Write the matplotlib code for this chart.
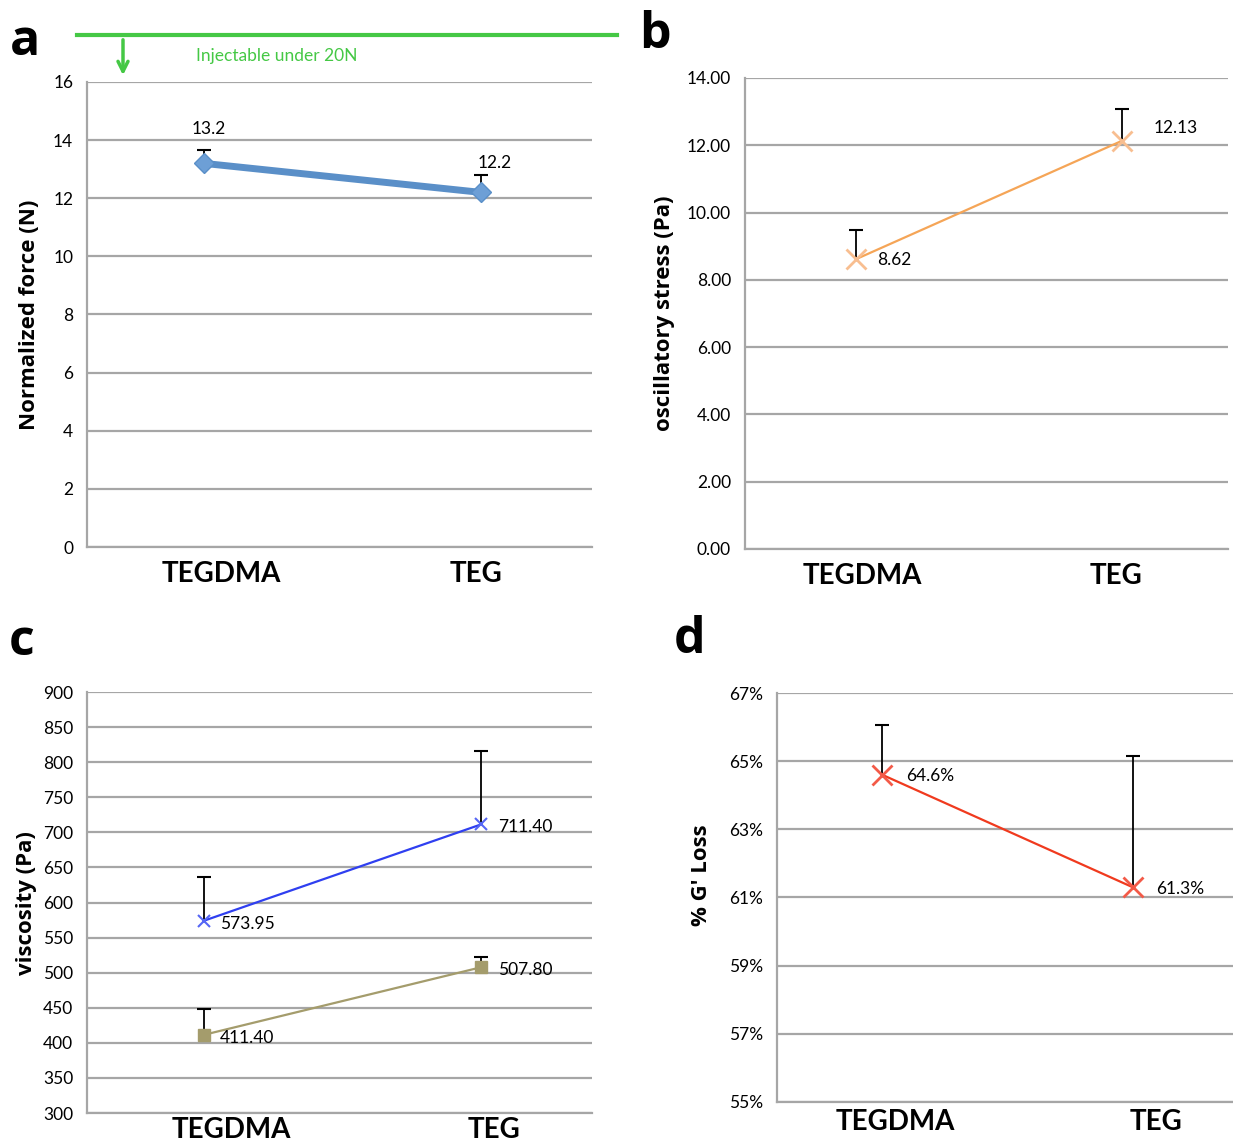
import numpy as np
import matplotlib.pyplot as plt
import matplotlib.transforms as mtransforms
from matplotlib.lines import Line2D
from matplotlib.ticker import FuncFormatter

plt.rcParams['font.family'] = ['Lato', 'DejaVu Sans']
LABEL_FONT = ['Open Sans', 'DejaVu Sans']

categories = ["TEGDMA", "TEG"]

# panel a: normalized injection force
force = [13.2, 12.2]
force_err = [0.45, 0.6]

# panel b: oscillatory stress
stress = [8.62, 12.13]
stress_err = [0.85, 0.95]

# panel c: viscosity, two series
visc_blue = [573.95, 711.40]
visc_blue_err = [62, 104]
visc_tan = [411.40, 507.80]
visc_tan_err = [37, 14]

# panel d: % G' loss
gloss = [64.6, 61.3]
gloss_err = [1.45, 3.85]

GRID = "#a6a6a6"


def style_axes(ax, ylim, step, fmt, shifts, pad=9):
    ax.set_xlim(-0.42, 1.40)
    ax.set_ylim(*ylim)
    ax.set_yticks(np.arange(ylim[0], ylim[1] + step / 2, step))
    ax.yaxis.set_major_formatter(FuncFormatter(fmt))
    ax.grid(axis="y", color=GRID, lw=1.6)
    ax.set_axisbelow(True)
    for s in ["top", "right"]:
        ax.spines[s].set_visible(False)
    for s in ["left", "bottom"]:
        ax.spines[s].set_color(GRID)
        ax.spines[s].set_linewidth(1.6)
    ax.tick_params(axis="y", length=0, labelsize=12.5, pad=10)
    ax.tick_params(axis="x", length=0, labelsize=20, pad=pad)
    ax.set_xticks([0, 1])
    ax.set_xticklabels(categories, fontweight="bold")
    # Excel puts the category labels a bit off the data points
    for lab, dx in zip(ax.get_xticklabels(), shifts):
        lab.set_transform(lab.get_transform() +
                          mtransforms.ScaledTranslation(dx / 100, 0, fig.dpi_scale_trans))


def errbars(ax, y, err):
    # upper error bars only, cap on top
    tops = [v + e for v, e in zip(y, err)]
    ax.vlines([0, 1], y, tops, color="black", lw=1.3, zorder=2)
    ax.plot([0, 1], tops, ls="none", marker="_", ms=10, mew=1.5, color="black", zorder=2)


def ylab(ax, text, x, y=0.5):
    ax.set_ylabel(text, fontsize=16, fontweight="bold", family=LABEL_FONT)
    ax.yaxis.set_label_coords(x, y)


fig = plt.figure(figsize=(12.33, 11.43), dpi=100)

# ---------------- a ----------------
ax_a = fig.add_axes([0.0706, 0.5214, 0.4096, 0.4069])
style_axes(ax_a, (0, 16), 2, lambda v, p: f"{v:.0f}", [18, -5], pad=10)
errbars(ax_a, force, force_err)
ax_a.plot([0, 1], force, color="#5a8fc8", lw=5, marker="D", ms=10,
          mfc="#6d9fd6", mec="#5a8fc8", zorder=3)
ax_a.annotate(f"{force[0]:.1f}", (0, force[0]), xytext=(4, 25), textcoords="offset points",
              ha="center", va="center", fontsize=12.5)
ax_a.annotate(f"{force[1]:.1f}", (1, force[1]), xytext=(10, 21), textcoords="offset points",
              ha="center", va="center", fontsize=12.5)
ylab(ax_a, "Normalized force (N)", -0.093)

# green threshold line with arrow
fig.add_artist(Line2D([77 / 1233, 617 / 1233], [1 - 35 / 1143, 1 - 35 / 1143],
                      color="#45c845", lw=3))
fig.add_artist(plt.Annotation("", xy=(123 / 1233, 1 - 78 / 1143),
                              xytext=(123 / 1233, 1 - 37 / 1143),
                              xycoords="figure fraction",
                              arrowprops=dict(arrowstyle="->", color="#45c845",
                                              lw=2.5, mutation_scale=18)))
fig.text(196 / 1233, 1 - 56 / 1143, "Injectable under 20N", color="#45c845",
         fontsize=12.5, va="center")

# ---------------- b ----------------
ax_b = fig.add_axes([0.6042, 0.5197, 0.3917, 0.4121])
style_axes(ax_b, (0, 14), 2, lambda v, p: f"{v:.2f}", [6, -6], pad=10)
errbars(ax_b, stress, stress_err)
ax_b.plot([0, 1], stress, color="#f5a557", lw=1.6, marker="x", ms=14,
          mew=2, mec="#f8be90", zorder=3)
ax_b.annotate(f"{stress[0]:.2f}", (0, stress[0]), xytext=(15, -1),
              textcoords="offset points", va="center", fontsize=12.5)
ax_b.annotate(f"{stress[1]:.2f}", (1, stress[1]), xytext=(23, 9),
              textcoords="offset points", va="center", fontsize=12.5)
ylab(ax_b, "oscillatory stress (Pa)", -0.145)

# ---------------- c ----------------
ax_c = fig.add_axes([0.0706, 0.0262, 0.4096, 0.3683])
style_axes(ax_c, (300, 900), 50, lambda v, p: f"{v:.0f}", [28, 13], pad=3)
errbars(ax_c, visc_blue, visc_blue_err)
errbars(ax_c, visc_tan, visc_tan_err)
ax_c.plot([0, 1], visc_blue, color="#2f3ff0", lw=1.6, marker="x", ms=8,
          mew=1.5, mec="#5566f5", zorder=3)
ax_c.plot([0, 1], visc_tan, color="#a49c6c", lw=1.6, marker="s", ms=8,
          mfc="#a49c6c", mec="#a49c6c", zorder=3)
for series in [visc_blue, visc_tan]:
    for x, v in zip([0, 1], series):
        ax_c.annotate(f"{v:.2f}", (x, v), xytext=(12, -2),
                      textcoords="offset points", va="center", fontsize=12.5)
ylab(ax_c, "viscosity (Pa)", -0.099)

# ---------------- d ----------------
ax_d = fig.add_axes([0.6302, 0.0359, 0.3698, 0.3578])
style_axes(ax_d, (55, 67), 2, lambda v, p: f"{v:.0f}%", [13, 23], pad=5)
errbars(ax_d, gloss, gloss_err)
ax_d.plot([0, 1], gloss, color="#f03a1e", lw=1.6, marker="x", ms=14,
          mew=2, mec="#f35a48", zorder=3)
for x, v in zip([0, 1], gloss):
    ax_d.annotate(f"{v:.1f}%", (x, v), xytext=(17, -1),
                  textcoords="offset points", va="center", fontsize=12.5)
ylab(ax_d, "% G' Loss", -0.143, 0.555)

# panel letters
for letter, x, y in [("a", 25, 42), ("b", 655, 35), ("c", 22, 642), ("d", 690, 640)]:
    fig.text(x / 1233, 1 - y / 1143, letter, fontsize=36, fontweight="bold",
             ha="center", va="center", family=LABEL_FONT)

fig.savefig("out.png", dpi=100)
